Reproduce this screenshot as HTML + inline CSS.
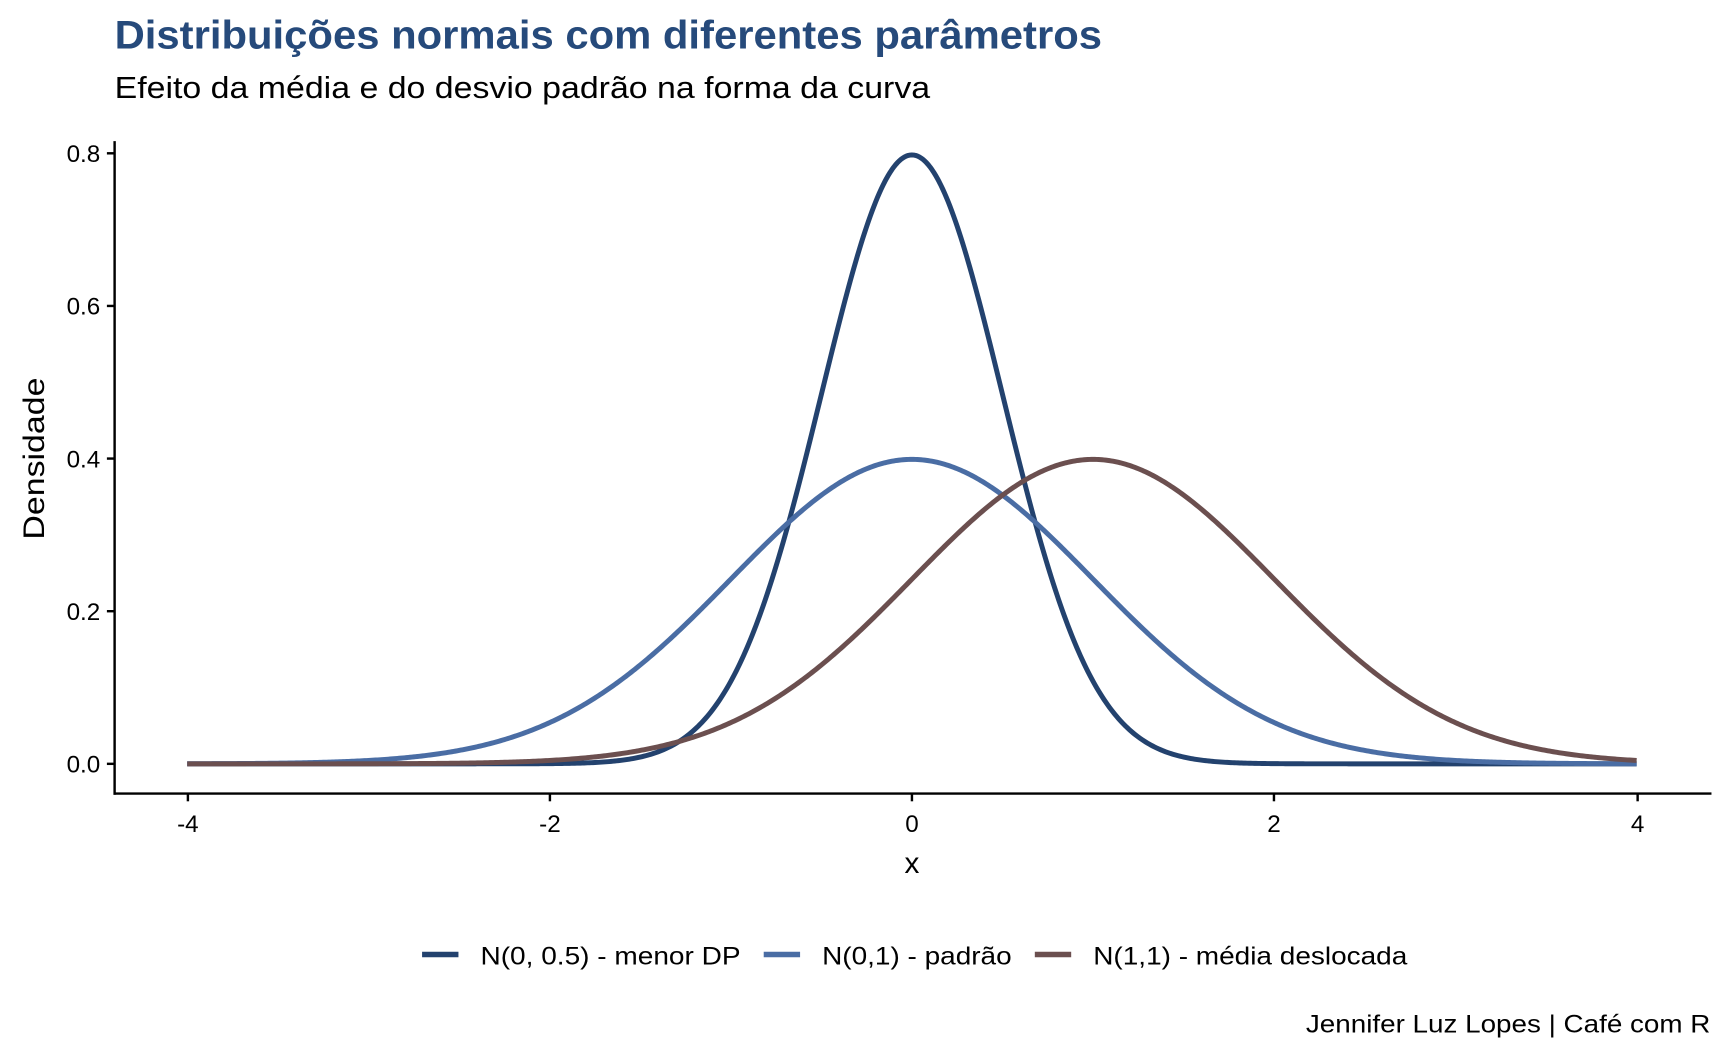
<!DOCTYPE html>
<html><head><meta charset="utf-8"><style>
html,body{margin:0;padding:0;background:#fff;}
svg{display:block;font-family:"Liberation Sans",Arial,sans-serif;}
</style></head><body>
<svg id="s" width="1728" height="1056" viewBox="0 0 1568 958" xmlns="http://www.w3.org/2000/svg">
<rect width="1568" height="958" fill="#fff"/>
<text x="104" y="44" font-size="36" font-weight="bold" fill="#264a7b" textLength="896" lengthAdjust="spacingAndGlyphs">Distribuições normais com diferentes parâmetros</text>
<text x="104" y="89" font-size="28" fill="#000" textLength="740" lengthAdjust="spacingAndGlyphs">Efeito da média e do desvio padrão na forma da curva</text>
<g stroke="#000" stroke-width="2.2" fill="none">
<line x1="104" y1="128" x2="104" y2="721"/>
<line x1="103" y1="720" x2="1553" y2="720"/>
<line x1="97" y1="139" x2="104" y2="139"/>
<line x1="97" y1="277.5" x2="104" y2="277.5"/>
<line x1="97" y1="416" x2="104" y2="416"/>
<line x1="97" y1="554.5" x2="104" y2="554.5"/>
<line x1="97" y1="693" x2="104" y2="693"/>
<line x1="170.5" y1="720" x2="170.5" y2="727"/>
<line x1="499" y1="720" x2="499" y2="727"/>
<line x1="827.5" y1="720" x2="827.5" y2="727"/>
<line x1="1156" y1="720" x2="1156" y2="727"/>
<line x1="1486" y1="720" x2="1486" y2="727"/>
</g>
<g font-size="22" fill="#000" text-anchor="end">
<text x="91" y="147">0.8</text>
<text x="91" y="285.5">0.6</text>
<text x="91" y="424">0.4</text>
<text x="91" y="562.5">0.2</text>
<text x="91" y="701">0.0</text>
</g>
<g font-size="22" fill="#000" text-anchor="middle">
<text x="170.5" y="755">-4</text>
<text x="499" y="755">-2</text>
<text x="827.5" y="755">0</text>
<text x="1156" y="755">2</text>
<text x="1486" y="755">4</text>
</g>
<text x="827.5" y="792" font-size="27" text-anchor="middle">x</text>
<text transform="translate(40,416) rotate(-90)" font-size="27" text-anchor="middle" textLength="147" lengthAdjust="spacingAndGlyphs">Densidade</text>
<g id="curves" fill="none" stroke-width="4.5" stroke-linejoin="round"></g>
<g font-size="23" fill="#000">
<line x1="383" y1="866" x2="416" y2="866" stroke="#23426e" stroke-width="5"/>
<text x="436" y="875" textLength="236" lengthAdjust="spacingAndGlyphs">N(0, 0.5) - menor DP</text>
<line x1="693" y1="866" x2="726" y2="866" stroke="#4a6da4" stroke-width="5"/>
<text x="746" y="875" textLength="172" lengthAdjust="spacingAndGlyphs">N(0,1) - padrão</text>
<line x1="939" y1="866" x2="972" y2="866" stroke="#6b4f4f" stroke-width="5"/>
<text x="992" y="875" textLength="285" lengthAdjust="spacingAndGlyphs">N(1,1) - média deslocada</text>
</g>
<text x="1185" y="937" font-size="23" textLength="367" lengthAdjust="spacingAndGlyphs">Jennifer Luz Lopes | Café com R</text>
</svg>
<script>
(function(){
var g=document.getElementById('curves');
function X(x){return 827.5+x*164.4;}
function Y(y){return 693-y*692.5;}
function path(m,s,col){
 var d='';
 for(var i=0;i<=800;i++){var x=-4+8*i/800;var y=Math.exp(-0.5*((x-m)/s)*((x-m)/s))/(s*Math.sqrt(2*Math.PI));
 d+=(i?'L':'M')+X(x).toFixed(2)+' '+Y(y).toFixed(2);}
 var p=document.createElementNS('http://www.w3.org/2000/svg','path');
 p.setAttribute('d',d);p.setAttribute('stroke',col);g.appendChild(p);
}
path(0,0.5,'#23426e');
path(0,1,'#4a6da4');
path(1,1,'#6b4f4f');
})();
</script>
</body></html>
